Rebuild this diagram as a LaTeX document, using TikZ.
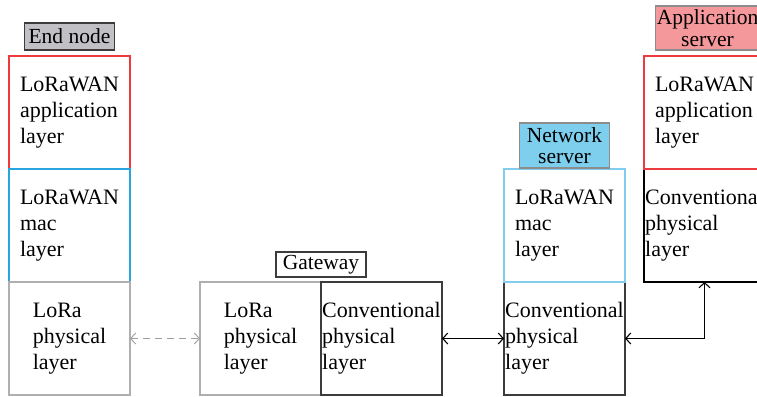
\documentclass[tikz,border=0pt]{standalone}
\usepackage{fontspec}
\setmainfont{Liberation Serif}
\usetikzlibrary{positioning,arrows.meta}
\definecolor{appred}{RGB}{236,58,62}
\definecolor{macblue}{RGB}{40,165,225}
\definecolor{macpale}{RGB}{130,205,238}
\definecolor{phygray}{RGB}{175,175,175}
\definecolor{convdark}{RGB}{60,60,60}
\definecolor{endfill}{RGB}{192,192,197}
\definecolor{nsfill}{RGB}{125,207,237}
\definecolor{asfill}{RGB}{245,152,155}
\tikzset{
  layer/.style={draw, line width=1.1pt, minimum width=121pt, minimum height=113pt,
    align=left, inner sep=0pt, outer sep=0pt, font=\fontsize{22}{26}\selectfont},
  tag/.style={draw, line width=1.1pt, minimum width=90pt, align=center,
    inner sep=1pt, outer sep=0pt, font=\fontsize{21.5}{21.5}\selectfont},
  link/.style={line width=1.1pt, {Straight Barb[length=5pt,width=11pt]}-{Straight Barb[length=5pt,width=11pt]}},
}
\begin{document}
\begin{tikzpicture}[x=1pt, y=-1pt]
\useasboundingbox (0,0) rectangle (757,396);
% end node
\node[layer, draw=appred, anchor=north west] (endapp) at (9,56) {LoRaWAN\\application\\layer};
\node[layer, draw=macblue, below=0pt of endapp] (endmac) {LoRaWAN\\mac\\layer};
\node[layer, draw=phygray, below=0pt of endmac] (endphy) {LoRa\\physical\\layer};
\node[tag, fill=endfill, draw=convdark, minimum height=27pt, above=6pt of endapp] (endtag) {End node};
% gateway
\node[layer, draw=phygray, anchor=north west] (gwlora) at (200,282) {LoRa\\physical\\layer};
\node[layer, draw=convdark, right=0pt of gwlora] (gwconv) {Conventional\\physical\\layer};
\node[tag, draw=convdark, minimum height=25pt, above=5pt of gwlora.north east] (gwtag) {Gateway};
% network server
\node[layer, draw=convdark, anchor=north west] (nsconv) at (504,282) {Conventional\\physical\\layer};
\node[layer, draw=macpale, above=0pt of nsconv] (nsmac) {LoRaWAN\\mac\\layer};
\node[tag, fill=nsfill, draw=phygray!80!black, minimum height=45pt, above=1pt of nsmac] (nstag) {Network\\server};
% application server
\node[layer, draw=black, anchor=north west] (asconv) at (644,169) {Conventional\\physical\\layer};
\node[layer, draw=appred, above=0pt of asconv] (asapp) {LoRaWAN\\application\\layer};
\node[tag, fill=asfill, draw=phygray!80!black, minimum width=104pt, minimum height=44pt,
  above=6pt of asapp, xshift=3pt] (astag) {Application\\server};
% links
\draw[link, line width=0.9pt, phygray!90!black, dash pattern=on 7pt off 5pt] (endphy) -- (gwlora);
\draw[link] (gwconv) -- (nsconv);
\draw[link] (nsconv.east) -| (asconv.south);
\end{tikzpicture}
\end{document}
